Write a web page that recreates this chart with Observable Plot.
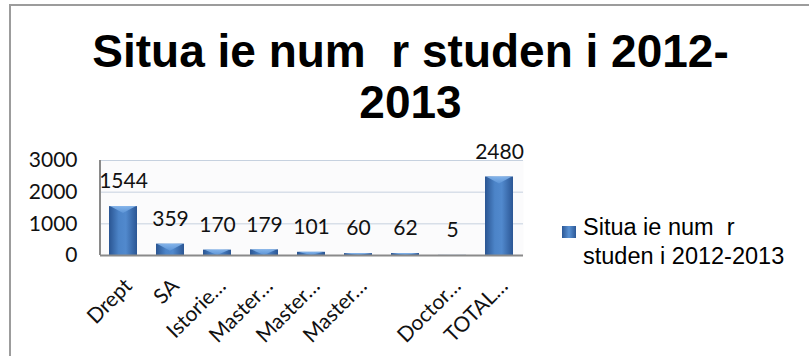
<!DOCTYPE html>
<html>
<head>
<meta charset="utf-8">
<script src="https://cdn.jsdelivr.net/npm/d3@7"></script>
<script src="https://cdn.jsdelivr.net/npm/@observablehq/plot@0.6"></script>
<style>
  body { margin: 0; background: #fff; }
  #wrap { position: relative; width: 809px; height: 356px; overflow: hidden; background: #fff; }
  #border { position: absolute; left: 9px; top: 4px; width: 820px; height: 370px;
            border-top: 2px solid #9c9c9c; border-left: 2px solid #9c9c9c; }
  #title { position: absolute; left: 6px; top: 26px; width: 809px; text-align: center;
           font: bold 46px "Liberation Sans", Arial, sans-serif; line-height: 51px;
           white-space: pre; color: #000; }
  #chart { position: absolute; left: 0; top: 130px; }
  #legend { position: absolute; left: 562px; top: 213px; font: 23.5px "Liberation Sans", Arial, sans-serif;
            line-height: 29px; color: #000; white-space: pre; }
  #legend .sw { position: absolute; left: 0; top: 13px; width: 14px; height: 12px;
                background: linear-gradient(90deg, #2c5896, #5a92d4 50%, #2c5896); }
  #legend .tx { position: absolute; left: 21px; top: 0; }
</style>
</head>
<body>
<div id="wrap">
  <div id="border"></div>
  <div id="title"></div>
  <div id="chart"></div>
  <div id="legend"><div class="sw"></div><div class="tx"></div></div>
</div>
<script>
const titleText = "Situa ie num  r studen i 2012-\n2013";
const seriesName = "Situa ie num  r\nstuden i 2012-2013";
const tickLabels = ["Drept", "SA", "Istorie…", "Master…", "Master…", "Master…", "", "Doctor…", "TOTAL…"];
const values = [1544, 359, 170, 179, 101, 60, 62, 5, 2480];
const yTicks = [0, 1000, 2000, 3000];

document.getElementById("title").textContent = titleText;
document.querySelector("#legend .tx").textContent = seriesName;

const data = values.map((v, i) => ({i, label: tickLabels[i], value: v}));

const leftAxisLine = (index, scales, values, dims) => {
  const ns = "http://www.w3.org/2000/svg";
  const l = document.createElementNS(ns, "line");
  l.setAttribute("x1", dims.marginLeft); l.setAttribute("x2", dims.marginLeft);
  l.setAttribute("y1", dims.marginTop); l.setAttribute("y2", dims.height - dims.marginBottom);
  l.setAttribute("stroke", "#8a8a8a"); l.setAttribute("stroke-width", 2);
  return l;
};

const chart = Plot.plot({
  width: 809,
  height: 226,
  marginLeft: 100,
  marginRight: 286,
  marginTop: 30,
  marginBottom: 101,
  style: {fontFamily: "Lato, sans-serif", fontSize: "21px", color: "#111", background: "transparent", overflow: "visible"},
  x: {domain: d3.range(values.length), paddingInner: 0.4, paddingOuter: 0.2, label: null},
  y: {domain: [0, 3000], label: null},
  marks: [
    Plot.frame({fill: "#fbfbfc", stroke: null}),
    Plot.ruleY(yTicks.filter(d => d > 0), {stroke: "#c6d1df", strokeWidth: 1}),
    Plot.barY(data, {x: "i", y: "value", fill: "#3b6fb0"}),
    Plot.ruleY([0], {stroke: "#8a8a8a", strokeWidth: 2}),
    leftAxisLine,
    Plot.text(data, {x: "i", y: "value", text: d => String(d.value), dy: -25, fontSize: 21, fill: "#111"}),
    Plot.axisY({ticks: yTicks, tickSize: 0, tickPadding: 23, fontSize: 21, tickFormat: d => String(d), label: null}),
    Plot.axisX({tickSize: 0, tickPadding: 27, dx: 5, tickRotate: -45, fontSize: 21, tickFormat: i => tickLabels[i], label: null})
  ]
});

const svgNS = "http://www.w3.org/2000/svg";
const defs = document.createElementNS(svgNS, "defs");
defs.innerHTML = `<linearGradient id="barGrad" x1="0" x2="1" y1="0" y2="0">
  <stop offset="0" stop-color="#2a5592"/>
  <stop offset="0.35" stop-color="#4c84c8"/>
  <stop offset="0.6" stop-color="#5189cd"/>
  <stop offset="1" stop-color="#2b5694"/>
</linearGradient>
<linearGradient id="capGrad" x1="0" x2="0" y1="0" y2="1">
  <stop offset="0" stop-color="#8dbcf0"/>
  <stop offset="1" stop-color="#5e96d8"/>
</linearGradient>`;
chart.insertBefore(defs, chart.firstChild);
chart.querySelectorAll('g[aria-label="bar"]').forEach(g => {
  g.setAttribute("fill", "url(#barGrad)");
  g.querySelectorAll("rect").forEach(r => {
    r.setAttribute("fill", "url(#barGrad)");
    const x = +r.getAttribute("x"), y = +r.getAttribute("y");
    const w = +r.getAttribute("width"), h = +r.getAttribute("height");
    if (h > 1.5) {
      const ch = Math.min(7, h);
      const p = document.createElementNS(svgNS, "path");
      p.setAttribute("d", `M${x + 1},${y}L${x + w - 1},${y}L${x + w / 2},${y + ch}Z`);
      p.setAttribute("fill", "url(#capGrad)");
      p.setAttribute("opacity", "0.85");
      r.after(p);
    }
  });
});

document.getElementById("chart").appendChild(chart);
</script>
</body>
</html>
